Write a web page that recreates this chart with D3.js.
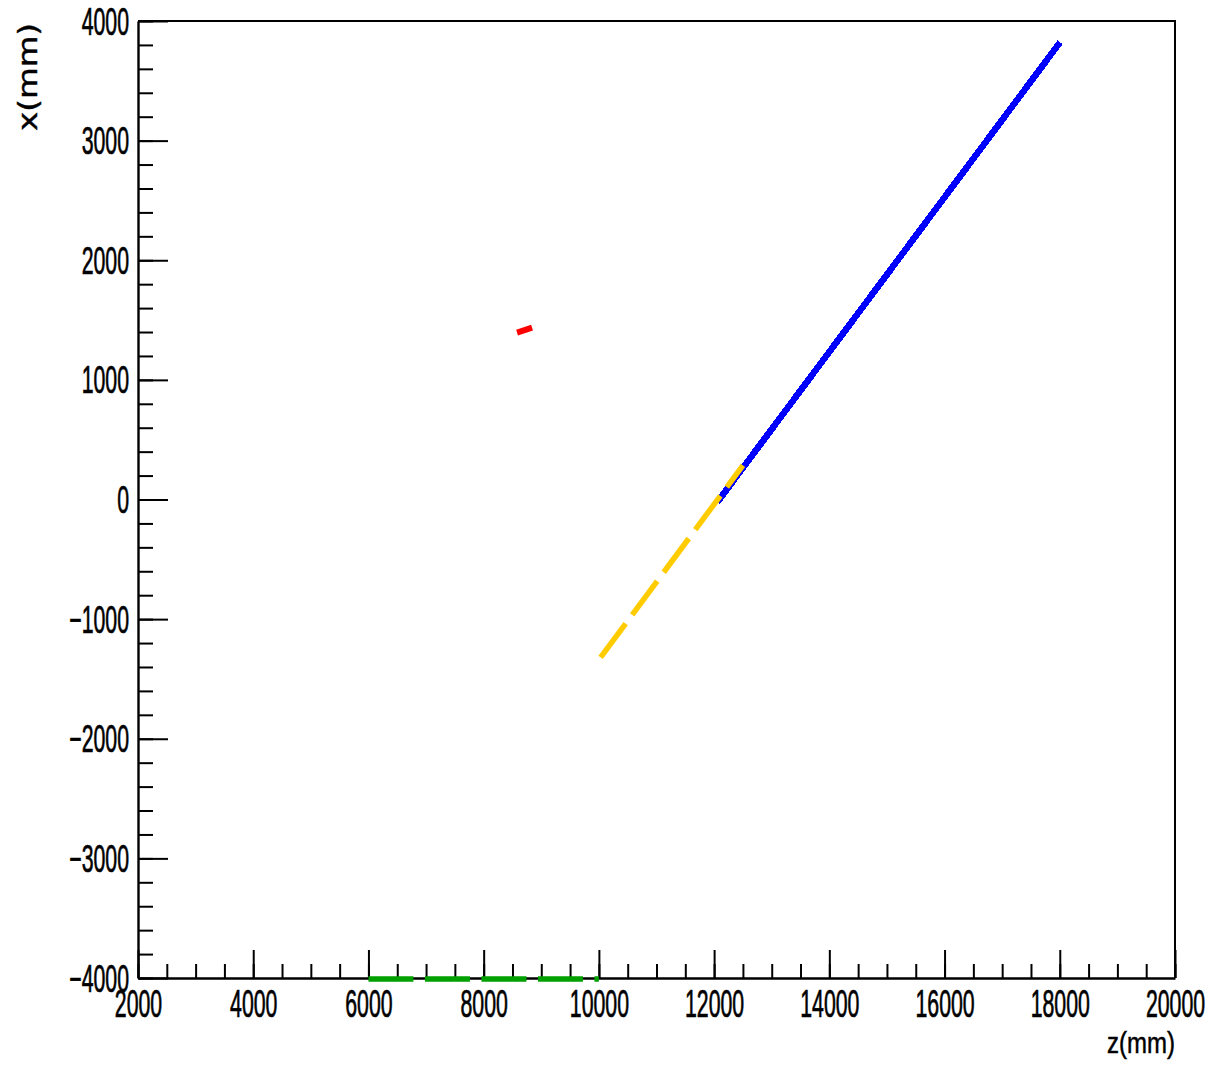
<!DOCTYPE html>
<html>
<head>
<meta charset="utf-8">
<script src="https://cdn.jsdelivr.net/npm/d3@7"></script>
<style>
html,body{margin:0;padding:0;background:#fff;}
svg{display:block;}
</style>
</head>
<body>
<svg id="c" width="1214" height="1067"></svg>
<script>
// ---- data ----
const zDomain = [2000, 20000];
const xDomain = [-4000, 4000];
const zMajorTicks = [2000, 4000, 6000, 8000, 10000, 12000, 14000, 16000, 18000, 20000];
const zMinorTicks = d3.range(2000, 20001, 500);
const xMajorTicks = [-4000, -3000, -2000, -1000, 0, 1000, 2000, 3000, 4000];
const xMinorTicks = d3.range(-4000, 4001, 200);

const blueZ = [12090, 17970];
const blueX = [0, 3800];
const yellowZ = [10030, 12500];
const yellowX = [-1320, 285];
const redZ = [8580, 8840];
const redX = [1395, 1436];
const greenZ = [6000, 10000];
const greenX = [-4000, -4000];

const zLabel = "z(mm)";
const xLabel = "x(mm)";

// ---- layout ----
const L = 138, R = 1175, T = 21, B = 978;
const svg = d3.select("#c");
const sx = d3.scaleLinear().domain(zDomain).range([L, R]);
const sy = d3.scaleLinear().domain(xDomain).range([B, T]);

const fmt = d => (d < 0 ? "\u2212" + Math.abs(d) : String(d));
const FONT = "'Liberation Sans', Arial, Helvetica, sans-serif";
const SCALE = 0.56;

// frame (top and right)
svg.append("path")
  .attr("d", `M${L},${T}H${R}V${B}`)
  .attr("fill", "none").attr("stroke", "#000").attr("stroke-width", 2);

// y axis (left) - minor
svg.append("g").attr("transform", `translate(${L},0)`)
  .call(d3.axisLeft(sy).tickValues(xMinorTicks).tickSize(-15).tickFormat(""))
  .call(g => g.select(".domain").remove())
  .call(g => g.selectAll("line").attr("stroke", "#000").attr("stroke-width", 2));
// y axis major
const gy = svg.append("g").attr("transform", `translate(${L},0)`)
  .call(d3.axisLeft(sy).tickValues(xMajorTicks).tickSize(-30).tickSizeOuter(0).tickFormat(fmt));
gy.select(".domain").attr("stroke", "#000").attr("stroke-width", 2.4);
gy.selectAll("line").attr("stroke", "#000").attr("stroke-width", 2);
gy.selectAll("text")
  .attr("x", null).attr("dy", null)
  .attr("transform", `translate(-9,13) scale(${SCALE},1)`)
  .attr("text-anchor", "end")
  .attr("font-family", FONT).attr("font-size", 38).attr("fill", "#000")
  .attr("stroke", "#000").attr("stroke-width", 0.7);

// x axis (bottom) - minor
svg.append("g").attr("transform", `translate(0,${B})`)
  .call(d3.axisBottom(sx).tickValues(zMinorTicks).tickSize(-14).tickFormat(""))
  .call(g => g.select(".domain").remove())
  .call(g => g.selectAll("line").attr("stroke", "#000").attr("stroke-width", 2));
const gx = svg.append("g").attr("transform", `translate(0,${B})`)
  .call(d3.axisBottom(sx).tickValues(zMajorTicks).tickSize(-28).tickSizeOuter(0).tickFormat(fmt));
gx.select(".domain").attr("stroke", "#000").attr("stroke-width", 2.4);
gx.selectAll("line").attr("stroke", "#000").attr("stroke-width", 2);
gx.selectAll("text")
  .attr("y", null).attr("dy", null)
  .attr("transform", `translate(0,39) scale(${SCALE},1)`)
  .attr("text-anchor", "middle")
  .attr("font-family", FONT).attr("font-size", 38).attr("fill", "#000")
  .attr("stroke", "#000").attr("stroke-width", 0.7);

// series (drawn above axes)
function series(zs, xs) { return zs.map((z, i) => [z, xs[i]]); }
const line = d3.line().x(d => sx(d[0])).y(d => sy(d[1]));

svg.append("path").datum(series(blueZ, blueX))
  .attr("d", line).attr("fill", "none")
  .attr("stroke", "#0000ff").attr("stroke-width", 6.5).attr("stroke-linecap", "square")
  .attr("shape-rendering", "crispEdges");

svg.append("path").datum(series(yellowZ, yellowX))
  .attr("d", line).attr("fill", "none")
  .attr("stroke", "#ffcc00").attr("stroke-width", 5.5)
  .attr("stroke-dasharray", "42,11");

svg.append("path").datum(series(redZ, redX))
  .attr("d", line).attr("fill", "none")
  .attr("stroke", "#ff0000").attr("stroke-width", 6);

svg.append("path").datum(series(greenZ, greenX))
  .attr("d", line).attr("fill", "none")
  .attr("transform", "translate(0,1)")
  .attr("stroke", "#00a000").attr("stroke-width", 5.5)
  .attr("stroke-dasharray", "45,11.5");

// axis titles
svg.append("text")
  .attr("transform", `translate(${R},1053) scale(0.8,1)`)
  .attr("text-anchor", "end")
  .attr("font-family", FONT).attr("font-size", 30).attr("fill", "#000")
  .attr("stroke", "#000").attr("stroke-width", 0.5)
  .text(zLabel);

svg.append("text")
  .attr("transform", `translate(37,23) rotate(-90) scale(1.25,1)`)
  .attr("text-anchor", "end")
  .attr("font-family", "'DejaVu Sans', Verdana, sans-serif").attr("font-size", 26).attr("fill", "#000")
  .attr("stroke", "#000").attr("stroke-width", 0.4)
  .text(xLabel);
</script>
</body>
</html>
